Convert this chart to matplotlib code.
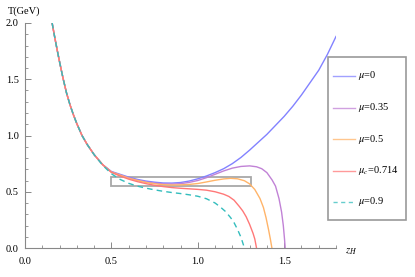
import numpy as np
import matplotlib
matplotlib.use("Agg")
import matplotlib.pyplot as plt
from matplotlib.patches import Rectangle
from matplotlib.lines import Line2D

plt.rcParams["font.family"] = ["Liberation Serif", "DejaVu Serif"]
plt.rcParams["mathtext.fontset"] = "stix"

# values (z_H, T in GeV)
z_left = [0.157, 0.17, 0.185, 0.2, 0.22, 0.24, 0.26, 0.28, 0.3, 0.33, 0.36, 0.4, 0.45]
T_left = [2.0, 1.89, 1.77, 1.655, 1.51, 1.38, 1.275, 1.185, 1.105, 1.0, 0.92, 0.83, 0.74]

z_mu0 = z_left + [0.5, 0.55, 0.6, 0.65, 0.7, 0.75, 0.8, 0.85, 0.9, 0.95, 1.0, 1.05, 1.1, 1.15,
                  1.2, 1.25, 1.3, 1.35, 1.4, 1.45, 1.5, 1.55, 1.6, 1.65, 1.7, 1.75, 1.8]
T_mu0 = T_left + [0.68, 0.655, 0.63, 0.61, 0.595, 0.585, 0.578, 0.577, 0.582, 0.595, 0.615, 0.64, 0.67, 0.705,
                  0.75, 0.805, 0.87, 0.94, 1.01, 1.09, 1.17, 1.26, 1.36, 1.47, 1.58, 1.72, 1.88]

z_mu035 = z_left + [0.5, 0.55, 0.6, 0.65, 0.7, 0.75, 0.8, 0.85, 0.9, 0.95, 1.0, 1.05, 1.1, 1.15, 1.2,
                    1.25, 1.3, 1.34, 1.37, 1.4, 1.43, 1.45, 1.47, 1.485, 1.495, 1.502, 1.506]
T_mu035 = T_left + [0.677, 0.65, 0.625, 0.603, 0.587, 0.576, 0.57, 0.568, 0.572, 0.583, 0.6, 0.625, 0.655, 0.685, 0.71,
                    0.725, 0.73, 0.722, 0.705, 0.67, 0.605, 0.55, 0.44, 0.32, 0.2, 0.08, 0.0]

z_mu05 = z_left + [0.5, 0.55, 0.6, 0.65, 0.7, 0.75, 0.8, 0.85, 0.9, 0.95, 1.0, 1.05, 1.1, 1.15, 1.19,
                   1.23, 1.27, 1.3, 1.33, 1.36, 1.38, 1.395, 1.41, 1.42, 1.429]
T_mu05 = T_left + [0.675, 0.648, 0.62, 0.6, 0.583, 0.571, 0.563, 0.56, 0.561, 0.565, 0.573, 0.587, 0.602, 0.614, 0.619,
                   0.615, 0.598, 0.57, 0.52, 0.44, 0.36, 0.27, 0.16, 0.08, 0.0]

z_mu0714 = z_left + [0.5, 0.55, 0.6, 0.65, 0.7, 0.75, 0.8, 0.85, 0.9, 0.95, 1.0, 1.05, 1.1, 1.15,
                     1.18, 1.21, 1.24, 1.26, 1.28, 1.3, 1.32, 1.33, 1.34]
T_mu0714 = T_left + [0.672, 0.64, 0.612, 0.59, 0.572, 0.557, 0.546, 0.537, 0.531, 0.526, 0.521, 0.514, 0.5, 0.478,
                     0.458, 0.425, 0.37, 0.33, 0.278, 0.21, 0.13, 0.08, 0.0]

z_mu09 = z_left + [0.5, 0.55, 0.6, 0.65, 0.7, 0.75, 0.8, 0.85, 0.9, 0.95, 1.0, 1.05, 1.1, 1.13,
                   1.16, 1.19, 1.21, 1.23, 1.25, 1.27]
T_mu09 = T_left[:-1] + [0.735, 0.66, 0.61, 0.575, 0.55, 0.532, 0.517, 0.504, 0.493, 0.484, 0.473, 0.46, 0.438, 0.4, 0.365,
                        0.325, 0.27, 0.225, 0.165, 0.095, 0.0]

labels = [r"$\mu$=0", r"$\mu$=0.35", r"$\mu$=0.5", r"$\mu_c$=0.714", r"$\mu$=0.9"]
colors = ["#8282ff", "#c182d6", "#ffb469", "#ff7878", "#33bdbd"]

fig = plt.figure(figsize=(4.15, 2.77), dpi=100)
ax = fig.add_axes([25/415, 29/277, 311/415, 225/277])

series = [(z_mu0, T_mu0), (z_mu035, T_mu035), (z_mu05, T_mu05), (z_mu0714, T_mu0714), (z_mu09, T_mu09)]
for i, (z, T) in enumerate(series):
    if i == 4:
        ax.plot(z, T, color=colors[i], lw=1.0, dashes=(4, 3))
    else:
        ax.plot(z, T, color=colors[i], lw=1.0)

ax.add_patch(Rectangle((0.5, 0.555), 0.81, 0.075, fill=False, edgecolor="#a8a8a8", lw=1.3))

ax.set_xlim(0, 1.8)
ax.set_ylim(0, 2.0)
ax.set_xticks([0.0, 0.5, 1.0, 1.5])
ax.set_yticks([0.0, 0.5, 1.0, 1.5, 2.0])
ax.set_xticklabels(["0.0", "0.5", "1.0", "1.5"])
ax.set_yticklabels(["0.0", "0.5", "1.0", "1.5", "2.0"])
ax.set_xticks(np.arange(0, 1.81, 0.1), minor=True)
ax.set_yticks(np.arange(0, 2.01, 0.1), minor=True)
for s in ["top", "right"]:
    ax.spines[s].set_visible(False)
for s in ["left", "bottom"]:
    ax.spines[s].set_color("#888888")
    ax.spines[s].set_linewidth(0.8)
ax.tick_params(which="both", direction="in", colors="#888888", labelcolor="black", labelsize=7.5)
ax.tick_params(axis="x", which="major", pad=6.5)
ax.tick_params(axis="y", which="major", pad=4.5)
ax.tick_params(which="major", length=4, width=0.7)
ax.tick_params(which="minor", length=2.2, width=0.6)

fig.text(8/415, 1 - 11/277, "T(GeV)", fontsize=7.5, va="center", ha="left")
fig.text(345/415, 1 - 252/277, r"$z_H$", fontsize=8, va="center", ha="left")

# legend box drawn by hand
fig.add_artist(Rectangle((328/415, 1 - 220/277), 78/415, 163/277, transform=fig.transFigure,
                         fill=False, edgecolor="#9a9a9a", lw=1.2))
ys = [76, 107.5, 139, 170.5, 202]
for i in range(5):
    y = 1 - ys[i]/277
    ln = Line2D([333/415, 355/415], [y, y], transform=fig.transFigure, color=colors[i], lw=1.0, alpha=0.75)
    if i == 4:
        ln.set_dashes((3, 2.5))
    fig.add_artist(ln)
    fig.text(358/415, y, labels[i], fontsize=7.5, va="center", ha="left")

fig.savefig("out.png", dpi=100)
